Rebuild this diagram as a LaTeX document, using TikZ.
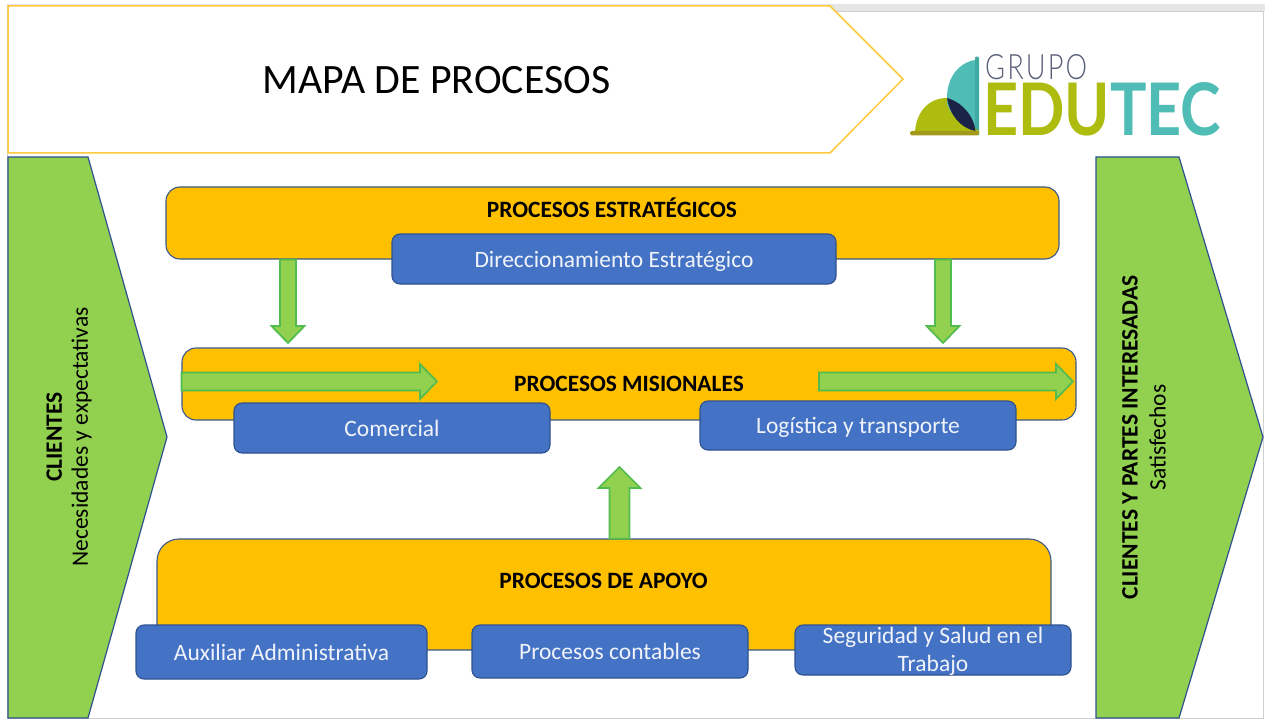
\documentclass[tikz,border=0pt]{standalone}
\usepackage{fontspec}
\usepackage{graphicx}
\setmainfont{Carlito}
\newfontfamily\logofont{Lato}
\newfontfamily\logolight{Lato Light}[LetterSpace=8]
\usetikzlibrary{calc}
\definecolor{gorange}{HTML}{FFC000}
\definecolor{gblue}{HTML}{4472C4}
\definecolor{gblueline}{HTML}{2F528F}
\definecolor{ggreen}{HTML}{92D050}
\definecolor{garrowline}{HTML}{52BC4E}
\definecolor{gtitleline}{HTML}{FFC93C}
\definecolor{gframe}{HTML}{CFCFCF}
\definecolor{gstrip}{HTML}{E6E6E6}
\definecolor{lteal}{HTML}{4FBDB5}
\definecolor{ltealdark}{HTML}{3FA9A2}
\definecolor{lolive}{HTML}{ADBC0E}
\definecolor{lolivedark}{HTML}{A39A1C}
\definecolor{lnavy}{HTML}{1B2347}
\definecolor{lgrey}{HTML}{5A6078}
\tikzset{
  orangebox/.style={draw=gblueline!85!gray,line width=1.1pt,fill=gorange,rounded corners=14pt,inner sep=0pt},
  bluetext/.style={text=white!92!gblue,align=center,font=\fontsize{23.5}{28}\selectfont,inner sep=0pt},
  bluebox/.style={bluetext,draw=gblueline,line width=1.1pt,fill=gblue,rounded corners=8pt},
  boldlabel/.style={font=\fontsize{23.4}{28}\selectfont\bfseries,text=black,inner sep=0pt},
  sidebox/.style={draw=gblueline,line width=1.2pt,fill=ggreen,line join=miter},
  sidetext/.style={rotate=90,align=center,font=\fontsize{23.5}{28}\selectfont,inner sep=0pt},
  blockstyle/.style={draw=garrowline,line width=1.7pt,fill=ggreen,line join=miter}
}
% pushes a text down in its centred box by half of the height added
\newcommand{\lowertext}[1]{\raisebox{0pt}[\dimexpr\height+4pt\relax]{#1}}
\newcommand{\blockarrow}[5]{% from, to, half shaft, half head, head length
  \coordinate (neck) at ($(#2)!#5!(#1)$);
  \draw[blockstyle] ($(#1)!#3!90:(#2)$) -- ($(neck)!#3!90:(#2)$) -- ($(neck)!#4!90:(#2)$) -- (#2)
    -- ($(neck)!#4!-90:(#2)$) -- ($(neck)!#3!-90:(#2)$) -- ($(#1)!#3!-90:(#2)$) -- cycle;
}
\begin{document}
\begin{tikzpicture}[x=1pt,y=-1pt]
\useasboundingbox (0,0) rectangle (1265,719);
\fill[white] (0,0) rectangle (1265,719);
\fill[gstrip] (830,4) rectangle (1265,11);
\draw[gframe,line width=1pt] (7,4) -- (7,718) -- (1263,718) -- (1263,11.5) -- (830,11.5);
\draw[gstrip,line width=1pt] (7,4.5) -- (830,4.5);
% title
\draw[gtitleline,line width=1.5pt,fill=white] (8,6) -- (830,6) -- (903,79) -- (830,153) -- (8,153) -- cycle;
\node[font=\fontsize{41.8}{45}\selectfont,inner sep=0pt] (title) at (436.5,80) {MAPA DE PROCESOS};
% logo
\fill[lteal] (975,60) .. controls (958,63) and (947,78) .. (947,98) -- (947,104) .. controls (952,118) and (962,128) .. (975,132) -- cycle;
\fill[ltealdark] (975,58) .. controls (975,56) and (979,56) .. (979,58) -- (979,135) -- (975,135) -- cycle;
\fill[lolive] (915,131) .. controls (917,110) and (930,98) .. (947,98) -- (947,104) .. controls (952,118) and (962,128) .. (979,133) -- (979,131) -- cycle;
\fill[lolive] (915,131) -- (979,131) -- (950,112) -- cycle;
\fill[lnavy] (947,98) .. controls (962,102) and (974,116) .. (975.5,131) .. controls (960,128) and (950,115) .. (947,98) -- cycle;
\fill[lolivedark,rounded corners=1.5pt] (910,131) rectangle (979,135.5);
\node[anchor=south west,inner sep=0pt] (grupo) at (985,80) {\resizebox{102pt}{25pt}{\logolight\color{lgrey}GRUPO}};
\node[anchor=south west,inner sep=0pt] (edutec) at (983,136.5) {\resizebox{238pt}{53pt}{\logofont\bfseries\color{lolive}EDU\color{lteal}TEC}};
% side shapes
\draw[sidebox] (8,157) -- (88,157) -- (167,437) -- (88,718) -- (8,718) -- cycle;
\draw[sidebox] (1096,157) -- (1179,157) -- (1263,437) -- (1179,718) -- (1096,718) -- cycle;
\node[sidetext] (clientes) at (69,437) {\textbf{CLIENTES}\\[-2pt]Necesidades y expectativas};
\node[sidetext] (partes) at (1144,437.5) {\textbf{CLIENTES Y PARTES INTERESADAS}\\Satisfechos};
% orange boxes
\node[orangebox,minimum width=893pt,minimum height=72pt] (estr) at (612.5,223) {};
\node[orangebox,minimum width=894pt,minimum height=72pt] (mis) at (629,384) {};
\draw[orangebox,rounded corners=22pt] (157,650) -- (157,539) -- (1051,539) -- (1051,650) [sharp corners] -- cycle;
\node[inner sep=0pt,minimum width=894pt,minimum height=111pt] (apoyo) at (604,594.5) {};
% arrows
\coordinate (a1s) at (estr.south -| 288,0);
\coordinate (a1e) at (288,343);
\coordinate (a2s) at (estr.south -| 943,0);
\coordinate (a2e) at (943,343);
\coordinate (a3s) at (mis.west |- 0,381.5);
\coordinate (a3e) at (437,381.5);
\coordinate (a4s) at (819,381.5);
\coordinate (a4e) at (1073,381.5);
\coordinate (a5s) at (apoyo.north -| 619.5,0);
\coordinate (a5e) at (619.5,467);
\blockarrow{a1s}{a1e}{8pt}{16.5pt}{17pt}
\blockarrow{a2s}{a2e}{8pt}{16.5pt}{17pt}
\blockarrow{a3s}{a3e}{9pt}{17.5pt}{17pt}
\blockarrow{a4s}{a4e}{9pt}{17.5pt}{17pt}
\blockarrow{a5s}{a5e}{10pt}{21pt}{21pt}
% labels
\node[boldlabel] (estrl) at (612,208) {PROCESOS ESTRATÉGICOS};
\node[boldlabel] (misl) at (629,384) {PROCESOS MISIONALES};
\node[boldlabel] (apoyol) at (603.5,581) {PROCESOS DE APOYO};
% blue boxes
\node[bluebox,minimum width=444pt,minimum height=50pt] (dir) at (614,259) {\lowertext{Direccionamiento Estratégico}};
\node[bluebox,minimum width=316pt,minimum height=50pt] (com) at (392,428) {Comercial};
\node[bluebox,minimum width=316pt,minimum height=49pt] (log) at (858,425.5) {\lowertext{Logística y transporte}};
\node[bluebox,minimum width=291pt,minimum height=54pt] (aux) at (281.5,652) {Auxiliar Administrativa};
\node[bluebox,minimum width=276pt,minimum height=53pt] (con) at (610,651.5) {Procesos contables};
\node[bluebox,minimum width=276pt,minimum height=50pt] (seg) at (933,650) {};
\node[bluetext] (segl) at (933,651) {Seguridad y Salud en el\\Trabajo};
\end{tikzpicture}
\end{document}
